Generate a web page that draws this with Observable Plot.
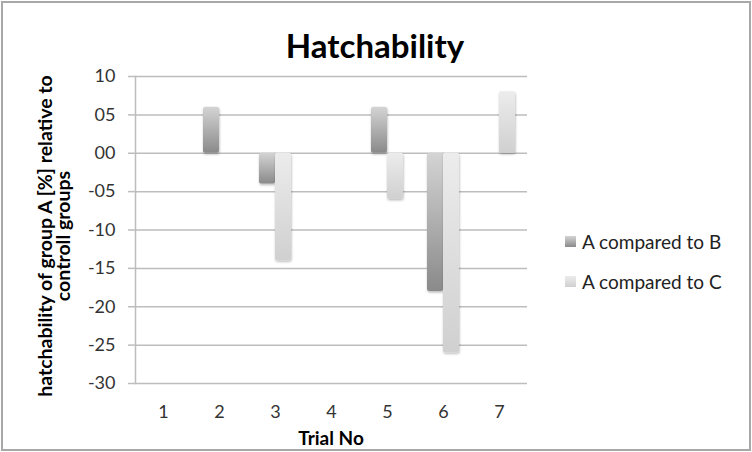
<!DOCTYPE html>
<html>
<head>
<meta charset="utf-8">
<script src="https://cdn.jsdelivr.net/npm/d3@7"></script>
<script src="https://cdn.jsdelivr.net/npm/@observablehq/plot@0.6"></script>
<style>
  body { margin: 0; background: #fff; }
  #wrap { position: relative; width: 752px; height: 452px; font-family: Lato, "Open Sans", sans-serif; color: #000; }
  #border { position: absolute; left: 1px; top: 1px; width: 746px; height: 446px; border: 2px solid #a8a8a8; pointer-events: none; }
  #title { position: absolute; left: 0; width: 750px; top: 25px; text-align: center; font-weight: 700; font-size: 33px; line-height: 40px; }
  #ylab { position: absolute; left: 54px; top: 236px; width: 360px; transform: translate(-50%, -50%) rotate(-90deg); text-align: center; font-weight: 700; font-size: 19.5px; line-height: 18px; }
  #xlab { position: absolute; left: 132px; width: 398px; top: 427px; text-align: center; font-weight: 700; font-size: 19px; line-height: 22px; }
  #legend { position: absolute; left: 565px; top: 230px; font-size: 19px; color: #222; }
  .li { display: flex; align-items: center; height: 22px; margin-bottom: 18px; }
  .sw { width: 11px; height: 11px; margin-right: 6px; }
</style>
</head>
<body>
<div id="wrap">
  <div id="chart"></div>
  <div id="title">Hatchability</div>
  <div id="ylab">hatchability of group A [%] relative to<br>controll groups</div>
  <div id="xlab">Trial No</div>
  <div id="legend"></div>
  <div id="border"></div>
</div>
<script>
const trials = [1, 2, 3, 4, 5, 6, 7];
const seriesNames = ["A compared to B", "A compared to C"];
const aVsB = [0, 6, -4, 0, 6, -18, 0];
const aVsC = [0, 0, -14, 0, -6, -26, 8];
const yTicks = [10, 5, 0, -5, -10, -15, -20, -25, -30];
const gradB = ["#d4d4d4", "#8a8a8a"];
const gradC = ["#ececec", "#d0d0d0"];

const rowsB = trials.map((t, i) => ({trial: t, series: seriesNames[0], value: aVsB[i]}));
const rowsC = trials.map((t, i) => ({trial: t, series: seriesNames[1], value: aVsC[i]}));

const fmt = d => (d < 0 ? "-" : "") + String(Math.abs(d)).padStart(2, "0");

const chart = Plot.plot({
  width: 752,
  height: 452,
  marginLeft: 132,
  marginRight: 222,
  marginTop: 76,
  marginBottom: 69,
  style: {fontFamily: "Lato, 'Open Sans', sans-serif", fontSize: "18px", color: "#333", background: "transparent"},
  fx: {domain: trials, paddingInner: 0, paddingOuter: 0, label: null},
  x: {domain: seriesNames, paddingInner: 0, paddingOuter: 0.676, axis: null},
  y: {domain: [-30, 10], axis: null},
  marks: [
    Plot.ruleY(yTicks, {stroke: "#bdbdbd", strokeWidth: 1.5, strokeOpacity: 1}),
    Plot.frame({anchor: "left", facetAnchor: "left", stroke: "#bdbdbd", strokeWidth: 1.5, strokeOpacity: 1}),
    Plot.axisY({ticks: yTicks, tickFormat: fmt, tickSize: 7, tickPadding: 13, stroke: "#bdbdbd", strokeWidth: 1.5, strokeOpacity: 1, fill: "#333", label: null}),
    Plot.axisFx({anchor: "bottom", tickSize: 0, tickPadding: 22, label: null, fill: "#333"}),
    Plot.barY(rowsB, {fx: "trial", x: "series", y: "value", fill: "url(#gB)", rx: 2}),
    Plot.barY(rowsC, {fx: "trial", x: "series", y: "value", fill: "url(#gC)", rx: 2})
  ]
});

const svg = d3.select(chart);
const defs = svg.insert("defs", ":first-child");
[["gB", gradB], ["gC", gradC]].forEach(([id, g]) => {
  const lg = defs.append("linearGradient").attr("id", id).attr("x1", 0).attr("y1", 0).attr("x2", 0).attr("y2", 1);
  lg.append("stop").attr("offset", 0).attr("stop-color", g[0]);
  lg.append("stop").attr("offset", 1).attr("stop-color", g[1]);
});
const f = defs.append("filter").attr("id", "sh").attr("x", "-50%").attr("y", "-20%").attr("width", "200%").attr("height", "140%");
f.append("feDropShadow").attr("dx", 0.5).attr("dy", 1.5).attr("stdDeviation", 1.3).attr("flood-color", "#000").attr("flood-opacity", 0.28);
svg.selectAll("g[aria-label='bar'] rect").attr("filter", "url(#sh)");

document.getElementById("chart").appendChild(chart);

const legend = d3.select("#legend");
[[seriesNames[0], gradB], [seriesNames[1], gradC]].forEach(([name, g]) => {
  const li = legend.append("div").attr("class", "li");
  li.append("div").attr("class", "sw").style("background", `linear-gradient(${g[0]}, ${g[1]})`);
  li.append("span").text(name);
});
</script>
</body>
</html>
